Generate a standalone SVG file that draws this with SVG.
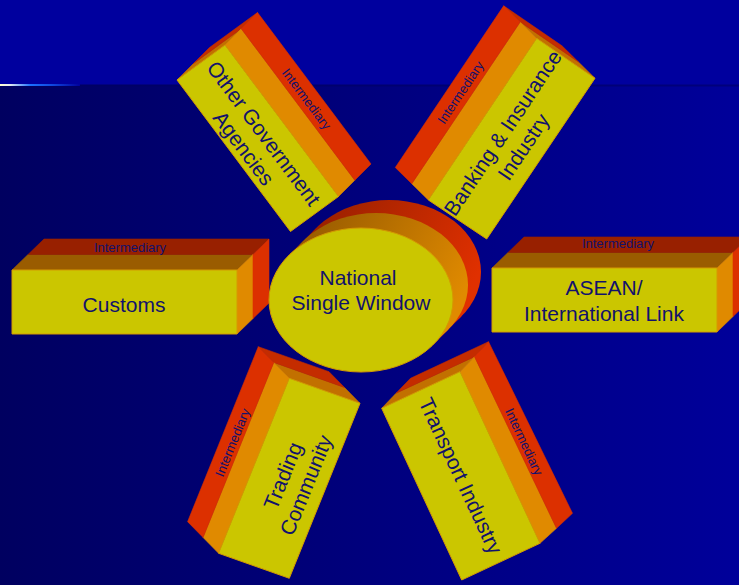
<svg xmlns="http://www.w3.org/2000/svg" width="739" height="585" viewBox="0 0 739 585">
<defs>
<style>
.y{fill:#CBC600;stroke:#D49A00;stroke-width:1;stroke-linejoin:round}
.o{fill:#E08A00;stroke:#E08A00;stroke-width:.6;stroke-linejoin:round}
.r{fill:#DC3000;stroke:#DC3000;stroke-width:.6;stroke-linejoin:round}
.ot{fill:#9A5C00;stroke:#9A5C00;stroke-width:.6}
.rt{fill:#982000;stroke:#982000;stroke-width:.6}
.oe{fill:#C27000;stroke:#C27000;stroke-width:.6;stroke-linejoin:round}
.re{fill:#C42C00;stroke:#C42C00;stroke-width:.6;stroke-linejoin:round}
text{font-family:"Liberation Sans",Arial,sans-serif;fill:#12126C;text-anchor:middle}
.big{font-size:21px}
.sm{font-size:13px}
</style>
<linearGradient id="bgLow" x1="0" y1="0" x2="1" y2="0">
<stop offset="0" stop-color="#000060"/><stop offset="1" stop-color="#00009A"/>
</linearGradient>
<linearGradient id="sep" x1="0" y1="0" x2="1" y2="0">
<stop offset="0" stop-color="#000060"/><stop offset="1" stop-color="#00007C"/>
</linearGradient>
<linearGradient id="glow" x1="0" y1="0" x2="1" y2="0">
<stop offset="0" stop-color="#FFFFD0"/><stop offset="0.12" stop-color="#E8ECF0"/>
<stop offset="0.38" stop-color="#1C70FF"/><stop offset="0.65" stop-color="#1048E0"/>
<stop offset="1" stop-color="#00009C"/>
</linearGradient>
<linearGradient id="cylO" gradientUnits="userSpaceOnUse" x1="320" y1="220" x2="460" y2="300">
<stop offset="0" stop-color="#9C5E00"/><stop offset="1" stop-color="#E08A00"/>
</linearGradient>
<linearGradient id="cylR" gradientUnits="userSpaceOnUse" x1="320" y1="210" x2="470" y2="290">
<stop offset="0" stop-color="#9A2000"/><stop offset="1" stop-color="#E03000"/>
</linearGradient>
</defs>

<g id="background">
<rect x="0" y="0" width="739" height="86" fill="#00009E"/>
<rect x="0" y="85" width="739" height="500" fill="url(#bgLow)"/>
<rect x="0" y="84.5" width="739" height="2" fill="url(#sep)"/>
<rect x="0" y="84" width="80" height="2" fill="url(#glow)"/>
</g>

<g id="connectors"></g>

<g id="customs">
<polygon class="ot" points="12,270 237,270 253,254.5 28,254.5"/>
<polygon class="rt" points="28,254.5 253,254.5 269,239 44,239"/>
<polygon class="o" points="237,270 253,254.5 253,318.5 237,334"/>
<polygon class="r" points="253,254.5 269,239 269,303 253,318.5"/>
<rect class="y" x="12" y="270" width="225" height="64"/>
<text class="sm" x="130" y="251.5">Intermediary</text>
<text class="big" x="124" y="311.5">Customs</text>
</g>

<g id="asean">
<polygon class="ot" points="492,268 717,268 733,252.5 508,252.5"/>
<polygon class="rt" points="508,252.5 733,252.5 749,237 524,237"/>
<polygon class="o" points="717,268 733,252.5 733,316.5 717,332"/>
<polygon class="r" points="733,252.5 749,237 749,301 733,316.5"/>
<rect class="y" x="492" y="268" width="225" height="64"/>
<text class="sm" x="618" y="248">Intermediary</text>
<text class="big" x="604" y="295">ASEAN/</text>
<text class="big" x="604" y="321">International Link</text>
</g>

<g id="other-government-agencies">
<polygon class="oe" points="177,80 225,45 241.25,28.75 193.25,63.75"/>
<polygon class="re" points="193.25,63.75 241.25,28.75 257.5,12.5 209.5,47.5"/>
<polygon class="o" points="225,45 338.5,196.5 354.75,180.25 241.25,28.75"/>
<polygon class="r" points="241.25,28.75 354.75,180.25 371,164 257.5,12.5"/>
<polygon class="y" points="177,80 225,45 338.5,196.5 290.5,231.5"/>
<text class="sm" transform="translate(306.5,99) rotate(53.2)" y="4.5">Intermediary</text>
<g transform="translate(257.5,138) rotate(53.2)">
<text class="big" y="-0.5">Other Government</text>
<text class="big" y="24.5">Agencies</text>
</g>
</g>

<g id="banking-insurance">
<polygon class="oe" points="536.7,38.3 595,78.3 578.5,62.05 520.2,22.05"/>
<polygon class="re" points="520.2,22.05 578.5,62.05 562,45.8 503.7,5.8"/>
<polygon class="o" points="428.3,200 536.7,38.3 520.2,22.05 411.8,183.75"/>
<polygon class="r" points="411.8,183.75 520.2,22.05 503.7,5.8 395.3,167.5"/>
<polygon class="y" points="536.7,38.3 595,78.3 486.7,239 428.3,200"/>
<text class="sm" transform="translate(460.5,92.5) rotate(-56.2)" y="4.5">Intermediary</text>
<g transform="translate(511.7,138.9) rotate(-56.2)">
<text class="big" y="-3.5">Banking &amp; Insurance</text>
<text class="big" y="21.5">Industry</text>
</g>
</g>

<g id="trading-community">
<polygon class="oe" points="289.3,378.3 360,403.3 344.5,387.5 273.8,362.5"/>
<polygon class="re" points="273.8,362.5 344.5,387.5 329,371.7 258.3,346.7"/>
<polygon class="o" points="218.6,553.3 289.3,378.3 273.8,362.5 203.1,537.5"/>
<polygon class="r" points="203.1,537.5 273.8,362.5 258.3,346.7 187.6,521.7"/>
<polygon class="y" points="289.3,378.3 360,403.3 289.3,578.3 218.6,553.3"/>
<text class="sm" transform="translate(232.5,442.5) rotate(-67.9)" y="4.5">Intermediary</text>
<g transform="translate(289.2,478.3) rotate(-67.9)">
<text class="big" y="0.5">Trading</text>
<text class="big" y="25.5">Community</text>
</g>
</g>

<g id="transport-industry">
<polygon class="oe" points="381.7,408.3 460,371.7 474.5,356.7 396,393.3"/>
<polygon class="re" points="396,393.3 474.5,356.7 488.5,341.7 410.5,378.3"/>
<polygon class="o" points="460,371.7 540,543.3 556.5,528.3 474.5,356.7"/>
<polygon class="r" points="474.5,356.7 556.5,528.3 572.5,513.3 488.5,341.7"/>
<polygon class="y" points="460,371.7 540,543.3 461.7,580 381.7,408.3"/>
<text class="sm" transform="translate(524,441.7) rotate(65)" y="4.5">Intermediary</text>
<text class="big" transform="translate(460.9,475.8) rotate(65)" y="7.5">Transport Industry</text>
</g>

<g id="national-single-window">
<g fill="url(#cylR)">
<ellipse cx="389" cy="272" rx="92" ry="72"/>
<polygon points="433.45,344.37 461.45,316.37 316.55,227.63 288.55,255.63"/>
</g>
<g fill="url(#cylO)">
<ellipse cx="376" cy="285" rx="92" ry="72"/>
<polygon points="433.45,344.37 448.45,329.37 303.55,240.63 288.55,255.63"/>
</g>
<ellipse class="y" cx="361" cy="300" rx="92" ry="72"/>
<text class="big" x="358" y="284.5">National</text>
<text class="big" x="361" y="310">Single Window</text>
</g>
</svg>
